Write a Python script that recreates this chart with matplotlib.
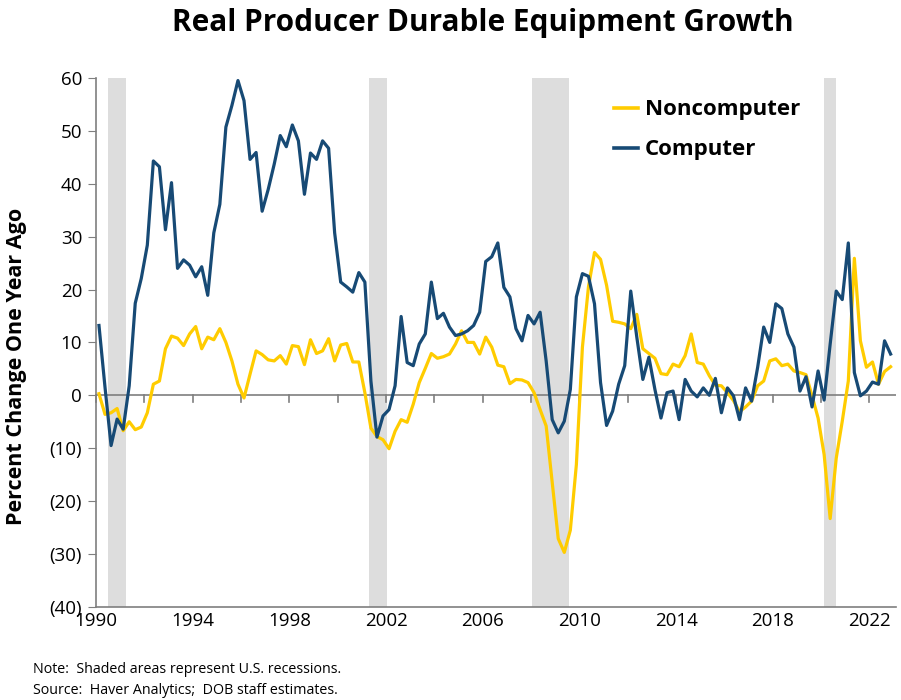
import numpy as np
import matplotlib
matplotlib.use("Agg")
import matplotlib.pyplot as plt
from matplotlib.ticker import FuncFormatter, MultipleLocator

# quarterly, 1990Q1 .. 2022Q4 (percent change from one year ago)
noncomputer = [
    0.3, -3.6, -3.3, -2.5,
    -6.7, -5.0, -6.5, -6.0,
    -3.3, 2.1, 2.7, 8.8,
    11.2, 10.8, 9.4, 11.6,
    13.0, 8.8, 11.0, 10.5,
    12.6, 10.0, 6.5, 2.1,
    -0.5, 4.0, 8.4, 7.7,
    6.7, 6.5, 7.5, 5.9,
    9.4, 9.2, 5.8, 10.5,
    7.9, 8.4, 10.7, 6.5,
    9.5, 9.8, 6.3, 6.3,
    0.5, -6.2, -7.8, -8.4,
    -10.1, -6.8, -4.6, -5.1,
    -1.7, 2.4, 5.1, 7.9,
    7.0, 7.3, 7.8, 9.7,
    12.2, 10.0, 10.0, 7.8,
    11.0, 9.1, 5.7, 5.4,
    2.2, 3.0, 2.9, 2.4,
    0.5, -2.7, -5.8, -16.5,
    -27.1, -29.7, -25.5, -13.1,
    9.1, 20.5, 27.0, 25.7,
    20.8, 14.0, 13.8, 13.5,
    12.6, 15.3, 8.8, 7.9,
    7.0, 4.1, 3.9, 5.9,
    5.4, 7.5, 11.6, 6.2,
    5.9, 3.7, 1.9, 1.8,
    0.5, -1.0, -3.1, -2.2,
    -1.1, 1.8, 2.7, 6.5,
    6.9, 5.6, 5.9, 4.6,
    4.3, 3.9, -0.1, -4.3,
    -11.2, -23.3, -11.9, -4.9,
    2.7, 25.9, 10.3, 5.3,
    6.3, 2.1, 4.5, 5.4,
]

computer = [
    13.2, 1.5, -9.5, -4.5,
    -6.4, 1.8, 17.4, 22.1,
    28.4, 44.3, 43.2, 31.3,
    40.2, 24.0, 25.6, 24.6,
    22.4, 24.3, 18.9, 30.7,
    36.1, 50.7, 54.8, 59.5,
    55.7, 44.6, 45.9, 34.8,
    38.9, 43.7, 49.1, 47.0,
    51.1, 48.1, 38.0, 45.8,
    44.6, 48.1, 46.7, 30.7,
    21.4, 20.5, 19.5, 23.2,
    21.4, 2.7, -7.9, -3.9,
    -2.7, 1.8, 14.9, 6.2,
    5.6, 9.7, 11.6, 21.4,
    14.5, 15.5, 12.9, 11.3,
    11.6, 12.2, 13.2, 15.7,
    25.3, 26.2, 28.8, 20.4,
    18.6, 12.6, 10.3, 15.1,
    13.5, 15.7, 6.5, -4.6,
    -7.1, -4.9, 1.1, 18.6,
    23.0, 22.5, 17.3, 2.4,
    -5.7, -3.0, 2.1, 5.6,
    19.7, 11.0, 3.0, 7.2,
    1.1, -4.3, 0.5, 0.8,
    -4.6, 3.0, 0.8, -0.3,
    1.4, 0.0, 3.2, -3.3,
    1.4, -0.1, -4.6, 1.4,
    -1.1, 5.3, 12.9, 10.0,
    17.3, 16.4, 11.6, 9.1,
    0.8, 3.5, -2.2, 4.6,
    -0.9, 9.7, 19.7, 18.1,
    28.8, 4.3, -0.1, 0.8,
    2.5, 2.1, 10.3, 7.8,
]

# recession periods (start, end) in decimal years
recessions = [(1990.5, 1991.25), (2001.3, 2002.05), (2008.05, 2009.55), (2020.1, 2020.6)]

YELLOW = "#FFCC00"
BLUE = "#174A75"
FONT = ["Open Sans", "DejaVu Sans"]


def paren_fmt(v, pos):
    if v < 0:
        return f"({abs(v):.0f})"
    return f"{v:.0f}"


def main():
    plt.rcParams["font.family"] = FONT
    t = 1990.125 + 0.25 * np.arange(len(computer))

    fig = plt.figure(figsize=(9.01, 7.0), dpi=100)
    ax = fig.add_axes([0.1065, 0.133, 0.888, 0.7557])

    for start, end in recessions:
        ax.axvspan(start, end, color="#DDDDDD", lw=0, zorder=0)

    ax.axhline(0, color="#7F7F7F", lw=1.2, zorder=1)
    ax.plot(t, noncomputer, color=YELLOW, lw=2.3, label="Noncomputer", zorder=2)
    ax.plot(t, computer, color=BLUE, lw=2.3, label="Computer", zorder=3)

    ax.set_xlim(1990, 2023.1)
    ax.set_ylim(-40, 60)
    ax.yaxis.set_major_locator(MultipleLocator(10))
    ax.yaxis.set_major_formatter(FuncFormatter(paren_fmt))
    ax.set_xticks(np.arange(1990, 2023, 2))
    ax.set_xticklabels([str(y) if (y - 1990) % 4 == 0 else "" for y in range(1990, 2023, 2)])

    for side in ["top", "right"]:
        ax.spines[side].set_visible(False)
    for side in ["left", "bottom"]:
        ax.spines[side].set_color("#7F7F7F")
        ax.spines[side].set_linewidth(1.2)

    ax.tick_params(axis="y", direction="out", length=6, color="#7F7F7F", labelsize=13.5, pad=4)
    ax.tick_params(axis="x", direction="out", length=0, labelsize=13.5, pad=4)
    # x ticks sit on the zero line
    for x in np.arange(1990, 2023, 2):
        ax.plot([x, x], [0, -1.3], color="#7F7F7F", lw=1.2, zorder=1, clip_on=False)

    ax.set_ylabel("Percent Change One Year Ago", fontsize=15.5, fontweight="bold")
    ax.yaxis.set_label_coords(-0.086, 0.454)
    fig.suptitle("Real Producer Durable Equipment Growth", fontsize=21.4, fontweight="bold",
                 x=0.536, y=0.988)

    leg = ax.legend(loc="upper right", bbox_to_anchor=(0.905, 0.997), frameon=False,
                    prop={"size": 16, "weight": "bold"}, handlelength=1.1,
                    handletextpad=0.3, labelspacing=0.85)
    for line in leg.get_lines():
        line.set_linewidth(2.6)

    fig.text(0.037, 0.038, "Note:  Shaded areas represent U.S. recessions.", fontsize=10.3)
    fig.text(0.037, 0.008, "Source:  Haver Analytics;  DOB staff estimates.", fontsize=10.3)

    fig.savefig("out.png", dpi=100)


if __name__ == '__main__':
    main()
